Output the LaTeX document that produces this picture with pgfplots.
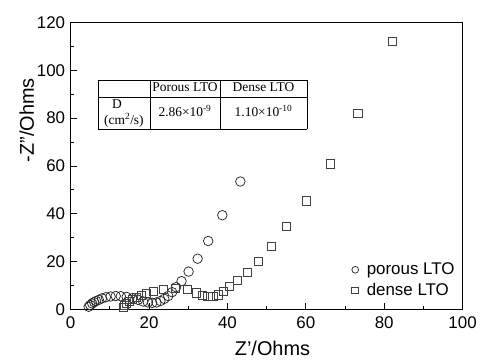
\documentclass[border=0pt]{standalone}
\usepackage{pgfplots}
\pgfplotsset{compat=1.18}
\usepackage{array}
\usepackage{fontspec}
\setmainfont{Liberation Sans}
\newfontfamily\timesfont{Liberation Serif}

\pgfplotstableread{
x y
4.6 1.1
5.0 1.8
5.5 2.5
6.0 3.0
6.5 3.5
7.2 4.0
8.0 4.6
9.0 5.1
10.2 5.4
11.5 5.6
12.8 5.5
14.3 5.2
15.8 4.7
17.2 4.0
18.5 3.3
19.7 2.9
20.8 2.7
21.9 2.9
22.9 3.5
23.9 4.4
24.9 5.6
25.9 7.2
26.9 9.3
28.3 11.8
30.1 15.8
32.4 21.2
35.1 28.6
38.7 39.4
43.3 53.5
}\porous

\pgfplotstableread{
x y
13.5 0.8
13.8 1.5
14.3 2.4
15.0 3.3
15.8 4.2
16.8 5.0
18.0 5.9
19.4 6.7
21.2 7.5
23.7 8.3
26.8 8.8
29.8 8.2
32.0 6.9
33.7 5.9
35.0 5.3
36.3 5.3
37.6 6.1
39.0 7.5
40.5 9.5
42.5 12.2
45.0 15.6
47.8 20.2
51.2 26.4
55.0 34.6
60.1 45.4
66.2 60.9
73.3 82.0
82.0 112.2
}\dense

\begin{document}
\begin{tikzpicture}
\begin{axis}[
  scale only axis,
  width=394pt, height=288.3pt,
  xmin=0, xmax=100, ymin=0, ymax=120,
  xtick={0,20,...,100}, ytick={0,20,...,120},
  minor x tick num=1, minor y tick num=1,
  tick align=inside, xtick pos=left, ytick pos=left,
  major tick length=6pt, minor tick length=3pt,
  axis line style={line width=0.9pt},
  every tick/.style={line width=0.8pt, black},
  /pgf/number format/assume math mode=true,
  ticklabel style={font=\fontsize{17}{20}\selectfont},
  xticklabel style={yshift=-4pt},
  yticklabel style={xshift=-2pt},
  xlabel={Z\char"27/Ohms}, ylabel={-Z\char"22/Ohms},
  label style={font=\fontsize{20}{24}\selectfont},
  xlabel style={at={(axis description cs:0.515,-0.137)}, anchor=center},
  ylabel style={at={(axis description cs:-0.112,0.66)}, anchor=center},
  legend style={draw=none, fill=none, at={(0.985,0.035)}, anchor=south east,
    font=\fontsize{17}{20}\selectfont, row sep=3pt, inner sep=0pt},
  legend cell align=left,
  legend image code/.code={\path (0cm,0cm) (0.45cm,0cm);\draw[mark size=3.4pt, line width=0.6pt] plot coordinates {(0.12cm,0cm)};},
]
\addplot[only marks, mark=o, mark size=4.8pt, mark options={draw=black!85, fill=white, line width=0.75pt}] table {\porous};
\addlegendentry{porous LTO}
\addplot[only marks, mark=square, mark size=4.1pt, mark options={draw=black!75, fill=white, line width=0.75pt}] table {\dense};
\addlegendentry{dense LTO}
\node[anchor=north west, inner sep=0pt, font=\timesfont\fontsize{13.5}{15.6}\selectfont] at (axis cs:6.85,96.1) {%
\setlength\tabcolsep{0pt}\renewcommand\arraystretch{1.07}%
\begin{tabular}{|>{\centering\arraybackslash}m{52pt}|>{\centering\arraybackslash}m{70pt}|>{\centering\arraybackslash}m{87pt}|}
\hline
 & Porous LTO & Dense LTO \\
\hline
D\newline(cm\textsuperscript{2}/s) & 2.86×10\textsuperscript{-9} & 1.10×10\textsuperscript{-10} \\
\hline
\end{tabular}};
\end{axis}
\path (current axis.south west) ++(-71pt,-50pt);
\path (current axis.north east) ++(15pt,22.7pt);
\end{tikzpicture}
\end{document}
